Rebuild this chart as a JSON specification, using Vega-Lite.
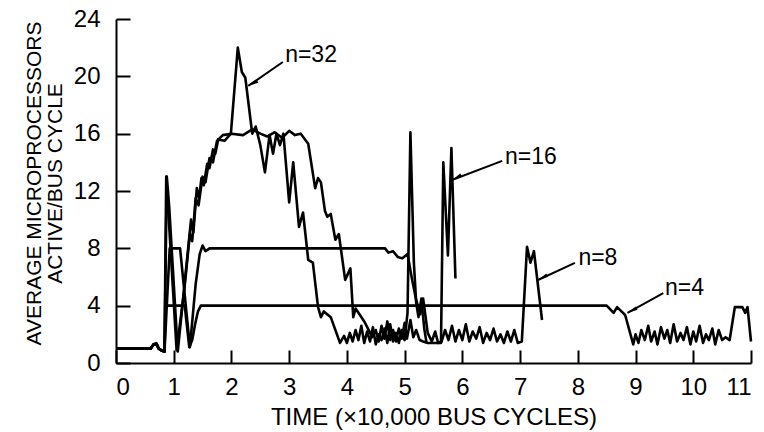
{
  "$schema": "https://vega.github.io/schema/vega-lite/v6.json",
  "width": 635,
  "height": 344,
  "autosize": "none",
  "padding": {"left": 116, "top": 19, "right": 13, "bottom": 69},
  "background": "white",
  "config": {"view": {"stroke": null}, "font": "Liberation Sans"},
  "datasets": {
    "lines": [
      {"n":"4","t":0,"v":1.0},{"n":"4","t":0.6,"v":1.0},{"n":"4","t":0.65,"v":1.3},{"n":"4","t":0.7,"v":1.35},{"n":"4","t":0.74,"v":1.0},{"n":"4","t":0.8,"v":0.85},{"n":"4","t":0.84,"v":0.8},
      {"n":"4","t":0.86,"v":4.0},{"n":"4","t":1.19,"v":4.0},{"n":"4","t":1.27,"v":1.1},{"n":"4","t":1.32,"v":1.6},{"n":"4","t":1.37,"v":2.7},{"n":"4","t":1.42,"v":3.6},{"n":"4","t":1.47,"v":4.0},{"n":"4","t":8.5,"v":4.0},{"n":"4","t":8.62,"v":3.5},{"n":"4","t":8.68,"v":3.9},{"n":"4","t":8.82,"v":3.35},{"n":"4","t":8.96,"v":1.3},{"n":"4","t":9.0,"v":2.0},{"n":"4","t":9.05,"v":1.4},{"n":"4","t":9.1,"v":2.3},{"n":"4","t":9.16,"v":1.6},{"n":"4","t":9.22,"v":2.6},{"n":"4","t":9.27,"v":1.5},{"n":"4","t":9.33,"v":2.2},{"n":"4","t":9.38,"v":1.3},{"n":"4","t":9.44,"v":2.5},{"n":"4","t":9.5,"v":1.7},{"n":"4","t":9.55,"v":2.3},{"n":"4","t":9.6,"v":1.4},{"n":"4","t":9.66,"v":2.7},{"n":"4","t":9.72,"v":1.5},{"n":"4","t":9.78,"v":2.1},{"n":"4","t":9.83,"v":1.6},{"n":"4","t":9.89,"v":2.5},{"n":"4","t":9.95,"v":1.3},{"n":"4","t":10.0,"v":2.2},{"n":"4","t":10.05,"v":1.5},{"n":"4","t":10.11,"v":2.6},{"n":"4","t":10.17,"v":1.4},{"n":"4","t":10.22,"v":2.0},{"n":"4","t":10.27,"v":1.6},{"n":"4","t":10.33,"v":2.4},{"n":"4","t":10.38,"v":1.3},{"n":"4","t":10.44,"v":2.3},{"n":"4","t":10.5,"v":1.6},{"n":"4","t":10.56,"v":1.8},{"n":"4","t":10.63,"v":1.6},{"n":"4","t":10.72,"v":3.9},{"n":"4","t":10.85,"v":3.9},{"n":"4","t":10.9,"v":3.5},{"n":"4","t":10.94,"v":3.9},{"n":"4","t":11.0,"v":1.5},

      {"n":"8","t":0,"v":1.0},{"n":"8","t":0.6,"v":1.0},{"n":"8","t":0.65,"v":1.3},{"n":"8","t":0.7,"v":1.35},{"n":"8","t":0.74,"v":1.0},{"n":"8","t":0.8,"v":0.85},{"n":"8","t":0.84,"v":0.8},
      {"n":"8","t":0.93,"v":8.0},{"n":"8","t":1.11,"v":8.0},{"n":"8","t":1.28,"v":1.1},{"n":"8","t":1.38,"v":5.5},{"n":"8","t":1.45,"v":7.6},{"n":"8","t":1.5,"v":8.2},{"n":"8","t":1.55,"v":7.8},{"n":"8","t":1.62,"v":8.0},{"n":"8","t":4.66,"v":8.0},{"n":"8","t":4.72,"v":7.7},{"n":"8","t":4.8,"v":7.8},{"n":"8","t":4.88,"v":7.4},{"n":"8","t":4.96,"v":7.3},{"n":"8","t":5.05,"v":7.6},{"n":"8","t":5.13,"v":5.8},{"n":"8","t":5.2,"v":4.4},{"n":"8","t":5.27,"v":3.4},{"n":"8","t":5.32,"v":4.5},{"n":"8","t":5.4,"v":2.1},{"n":"8","t":5.47,"v":1.5},{"n":"8","t":5.53,"v":2.2},{"n":"8","t":5.58,"v":1.4},{"n":"8","t":5.64,"v":1.5},{"n":"8","t":5.7,"v":2.3},{"n":"8","t":5.76,"v":1.6},{"n":"8","t":5.82,"v":2.6},{"n":"8","t":5.88,"v":1.5},{"n":"8","t":5.94,"v":2.3},{"n":"8","t":6.0,"v":1.6},{"n":"8","t":6.06,"v":2.7},{"n":"8","t":6.12,"v":1.5},{"n":"8","t":6.18,"v":2.2},{"n":"8","t":6.24,"v":1.7},{"n":"8","t":6.3,"v":2.5},{"n":"8","t":6.36,"v":1.4},{"n":"8","t":6.42,"v":2.1},{"n":"8","t":6.48,"v":1.6},{"n":"8","t":6.54,"v":2.4},{"n":"8","t":6.6,"v":1.5},{"n":"8","t":6.66,"v":2.0},{"n":"8","t":6.72,"v":1.4},{"n":"8","t":6.78,"v":2.2},{"n":"8","t":6.84,"v":1.5},{"n":"8","t":6.9,"v":2.3},{"n":"8","t":6.96,"v":1.4},{"n":"8","t":7.03,"v":1.5},{"n":"8","t":7.12,"v":8.1},{"n":"8","t":7.18,"v":7.0},{"n":"8","t":7.24,"v":7.8},{"n":"8","t":7.38,"v":3.0},

      {"n":"16","t":0,"v":1.0},{"n":"16","t":0.6,"v":1.0},{"n":"16","t":0.65,"v":1.3},{"n":"16","t":0.7,"v":1.35},{"n":"16","t":0.74,"v":1.0},{"n":"16","t":0.8,"v":0.85},{"n":"16","t":0.84,"v":0.8},
      {"n":"16","t":0.87,"v":13.0},{"n":"16","t":1.05,"v":0.9},{"n":"16","t":1.18,"v":5.0},{"n":"16","t":1.28,"v":9.0},{"n":"16","t":1.32,"v":8.5},{"n":"16","t":1.38,"v":11.5},{"n":"16","t":1.43,"v":11.0},{"n":"16","t":1.5,"v":13.0},{"n":"16","t":1.55,"v":12.6},{"n":"16","t":1.62,"v":14.3},{"n":"16","t":1.68,"v":14.0},{"n":"16","t":1.75,"v":15.5},{"n":"16","t":1.85,"v":15.9},{"n":"16","t":2.0,"v":16.0},{"n":"16","t":2.2,"v":15.9},{"n":"16","t":2.36,"v":16.3},{"n":"16","t":2.5,"v":16.0},{"n":"16","t":2.62,"v":15.8},{"n":"16","t":2.75,"v":16.1},{"n":"16","t":2.88,"v":15.7},{"n":"16","t":3.0,"v":16.2},{"n":"16","t":3.1,"v":15.9},{"n":"16","t":3.2,"v":16.0},{"n":"16","t":3.33,"v":15.3},{"n":"16","t":3.45,"v":12.2},{"n":"16","t":3.5,"v":12.9},{"n":"16","t":3.55,"v":12.6},{"n":"16","t":3.62,"v":10.6},{"n":"16","t":3.66,"v":10.2},{"n":"16","t":3.72,"v":10.4},{"n":"16","t":3.8,"v":8.6},{"n":"16","t":3.86,"v":9.0},{"n":"16","t":3.97,"v":5.8},{"n":"16","t":4.06,"v":6.6},{"n":"16","t":4.11,"v":3.2},{"n":"16","t":4.15,"v":3.8},{"n":"16","t":4.2,"v":3.5},{"n":"16","t":4.3,"v":2.9},{"n":"16","t":4.44,"v":1.8},{"n":"16","t":4.5,"v":2.3},{"n":"16","t":4.55,"v":1.5},{"n":"16","t":4.6,"v":2.6},{"n":"16","t":4.65,"v":1.7},{"n":"16","t":4.7,"v":2.9},{"n":"16","t":4.75,"v":1.6},{"n":"16","t":4.8,"v":2.3},{"n":"16","t":4.85,"v":1.5},{"n":"16","t":4.9,"v":2.4},{"n":"16","t":4.95,"v":1.7},{"n":"16","t":5.0,"v":2.8},{"n":"16","t":5.04,"v":1.7},{"n":"16","t":5.1,"v":3.0},{"n":"16","t":5.15,"v":1.8},{"n":"16","t":5.2,"v":2.3},{"n":"16","t":5.26,"v":1.6},{"n":"16","t":5.32,"v":1.5},{"n":"16","t":5.4,"v":1.4},{"n":"16","t":5.5,"v":1.4},{"n":"16","t":5.63,"v":1.4},{"n":"16","t":5.67,"v":14.0},{"n":"16","t":5.75,"v":7.5},{"n":"16","t":5.81,"v":15.0},{"n":"16","t":5.88,"v":5.9},

      {"n":"32","t":0,"v":1.0},{"n":"32","t":0.6,"v":1.0},{"n":"32","t":0.65,"v":1.3},{"n":"32","t":0.7,"v":1.35},{"n":"32","t":0.74,"v":1.0},{"n":"32","t":0.8,"v":0.85},{"n":"32","t":0.84,"v":0.8},
      {"n":"32","t":0.88,"v":13.0},{"n":"32","t":0.92,"v":11.0},{"n":"32","t":1.07,"v":0.8},{"n":"32","t":1.2,"v":6.0},{"n":"32","t":1.3,"v":10.0},{"n":"32","t":1.34,"v":9.1},{"n":"32","t":1.4,"v":12.2},{"n":"32","t":1.44,"v":11.5},{"n":"32","t":1.48,"v":12.9},{"n":"32","t":1.52,"v":12.4},{"n":"32","t":1.58,"v":13.9},{"n":"32","t":1.62,"v":13.6},{"n":"32","t":1.68,"v":14.9},{"n":"32","t":1.72,"v":14.6},{"n":"32","t":1.77,"v":15.6},{"n":"32","t":1.88,"v":15.5},{"n":"32","t":1.99,"v":16.0},{"n":"32","t":2.11,"v":22.0},{"n":"32","t":2.18,"v":20.3},{"n":"32","t":2.24,"v":19.9},{"n":"32","t":2.36,"v":16.0},{"n":"32","t":2.42,"v":16.5},{"n":"32","t":2.5,"v":15.2},{"n":"32","t":2.58,"v":13.3},{"n":"32","t":2.66,"v":15.9},{"n":"32","t":2.72,"v":14.6},{"n":"32","t":2.78,"v":16.0},{"n":"32","t":2.84,"v":15.2},{"n":"32","t":2.9,"v":16.0},{"n":"32","t":3.0,"v":11.2},{"n":"32","t":3.07,"v":14.0},{"n":"32","t":3.17,"v":9.5},{"n":"32","t":3.24,"v":10.5},{"n":"32","t":3.33,"v":7.2},{"n":"32","t":3.41,"v":7.0},{"n":"32","t":3.5,"v":3.9},{"n":"32","t":3.55,"v":3.2},{"n":"32","t":3.6,"v":3.6},{"n":"32","t":3.72,"v":3.2},{"n":"32","t":3.88,"v":1.4},{"n":"32","t":3.95,"v":1.9},{"n":"32","t":4.0,"v":1.4},{"n":"32","t":4.05,"v":2.1},{"n":"32","t":4.1,"v":1.5},{"n":"32","t":4.15,"v":2.3},{"n":"32","t":4.2,"v":1.6},{"n":"32","t":4.25,"v":2.6},{"n":"32","t":4.3,"v":1.4},{"n":"32","t":4.35,"v":2.2},{"n":"32","t":4.4,"v":1.5},{"n":"32","t":4.45,"v":2.5},{"n":"32","t":4.5,"v":1.3},{"n":"32","t":4.55,"v":2.0},{"n":"32","t":4.6,"v":1.6},{"n":"32","t":4.65,"v":2.4},{"n":"32","t":4.7,"v":1.4},{"n":"32","t":4.75,"v":2.7},{"n":"32","t":4.8,"v":1.5},{"n":"32","t":4.85,"v":2.1},{"n":"32","t":4.9,"v":1.4},{"n":"32","t":4.95,"v":2.3},{"n":"32","t":5.0,"v":1.6},{"n":"32","t":5.05,"v":3.5},{"n":"32","t":5.1,"v":16.1},{"n":"32","t":5.16,"v":7.0},{"n":"32","t":5.2,"v":4.2},{"n":"32","t":5.24,"v":3.2},{"n":"32","t":5.29,"v":4.5},{"n":"32","t":5.34,"v":2.4},{"n":"32","t":5.38,"v":1.4}
    ],
    "labels": [
      {"label":"n=32","t":2.93,"v":21.5},
      {"label":"n=16","t":6.74,"v":14.4},
      {"label":"n=8","t":8.01,"v":7.3},
      {"label":"n=4","t":9.51,"v":5.2}
    ],
    "arrows": [
      {"label":"n=32","t":2.89,"v":21.0,"t2":2.29,"v2":19.33},
      {"label":"n=16","t":6.69,"v":14.1,"t2":5.82,"v2":12.77},
      {"label":"n=8","t":7.95,"v":6.98,"t2":7.31,"v2":5.79},
      {"label":"n=4","t":9.48,"v":4.88,"t2":8.86,"v2":3.49}
    ]
  },
  "layer": [
    {
      "data": {"name": "lines"},
      "mark": {"type": "line", "color": "black", "strokeWidth": 2.6, "strokeJoin": "round"},
      "encoding": {
        "x": {
          "field": "t", "type": "quantitative",
          "scale": {"domain": [0, 11], "nice": false, "zero": false},
          "axis": {
            "values": [0,1,2,3,4,5,6,7,8,9,10,11],
            "format": "d",
            "labelOverlap": false,
            "grid": false,
            "domainColor": "black", "domainWidth": 2,
            "tickColor": "black", "tickWidth": 2, "tickSize": -13,
            "labelFontSize": 24, "labelColor": "black", "labelPadding": 25,
            "title": "TIME (×10,000 BUS CYCLES)",
            "titleFontSize": 24, "titleFontWeight": "normal", "titleColor": "black", "titlePadding": 6
          }
        },
        "y": {
          "field": "v", "type": "quantitative",
          "scale": {"domain": [0, 24], "nice": false},
          "axis": {
            "values": [0,4,8,12,16,20,24],
            "format": "d",
            "labelOverlap": false,
            "grid": false,
            "domainColor": "black", "domainWidth": 2,
            "tickColor": "black", "tickWidth": 2, "tickSize": -14,
            "labelFontSize": 24, "labelColor": "black", "labelPadding": 30,
            "title": ["AVERAGE MICROPROCESSORS", "ACTIVE/BUS CYCLE"],
            "titleFontSize": 21, "titleFontWeight": "normal", "titleColor": "black",
            "titleLineHeight": 21, "titlePadding": 8, "titleY": 164
          }
        },
        "detail": {"field": "n"}
      }
    },
    {
      "data": {"name": "arrows"},
      "mark": {"type": "rule", "color": "black", "strokeWidth": 2},
      "encoding": {
        "x": {"field": "t", "type": "quantitative"},
        "y": {"field": "v", "type": "quantitative"},
        "x2": {"field": "t2"},
        "y2": {"field": "v2"}
      }
    },
    {
      "data": {"name": "arrows"},
      "mark": {"type": "point", "shape": "M0,0L0.4,2.2L-0.4,2.2Z", "filled": true, "color": "black", "opacity": 1, "size": 90, "angle": 242},
      "encoding": {
        "x": {"field": "t2", "type": "quantitative"},
        "y": {"field": "v2", "type": "quantitative"}
      }
    },
    {
      "data": {"name": "labels"},
      "mark": {"type": "text", "align": "left", "baseline": "middle", "fontSize": 23, "color": "black", "font": "Liberation Sans"},
      "encoding": {
        "x": {"field": "t", "type": "quantitative"},
        "y": {"field": "v", "type": "quantitative"},
        "text": {"field": "label"}
      }
    }
  ]
}
